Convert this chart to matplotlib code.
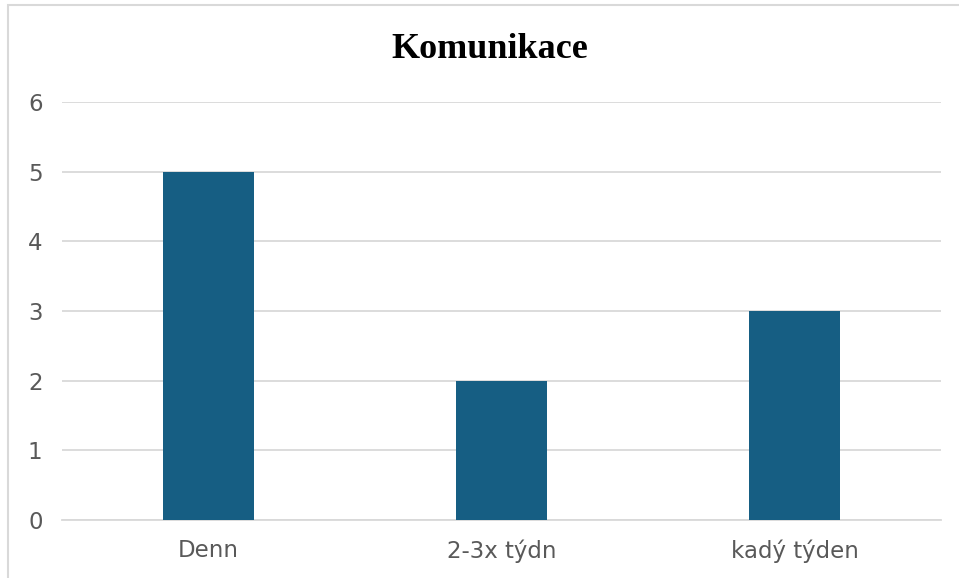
import matplotlib.pyplot as plt
from matplotlib.patches import Rectangle

categories = ["Denn", "2-3x týdn", "kadý týden"]
values = [5, 2, 3]
yticks = [0, 1, 2, 3, 4, 5, 6]
title = "Komunikace"

fig = plt.figure(figsize=(9.59, 5.78), dpi=100)
fig.patches.append(Rectangle((8/959, -0.1), 1.2, 1 - 5/578 + 0.1, transform=fig.transFigure,
                             fill=False, edgecolor="#d9d9d9", linewidth=1.5))
ax = fig.add_axes([62/959, 1 - 520/578, (941-62)/959, (520-102)/578])
x = range(len(categories))
ax.bar(x, values, width=0.31, color="#165e83", zorder=3)
ax.set_xlim(-0.5, len(categories) - 0.5)
ax.set_ylim(0, 6)
ax.set_yticks(yticks)
ax.set_xticks(list(x))
ax.set_xticklabels(categories)
ax.grid(axis="y", color="#d9d9d9", linewidth=1.3, zorder=0)
for s in ["top", "right", "left"]:
    ax.spines[s].set_visible(False)
ax.spines["bottom"].set_color("#d9d9d9")
ax.spines["bottom"].set_linewidth(1.3)
ax.tick_params(axis="both", length=0, labelsize=16.5, labelcolor="#595959")
ax.tick_params(axis="y", pad=14)
ax.tick_params(axis="x", pad=14)
fig.text(490/959, 1 - 49/578, title, ha="center", va="center",
         fontsize=26, fontweight="bold", family="Liberation Serif")
fig.savefig("out.png", dpi=100)
